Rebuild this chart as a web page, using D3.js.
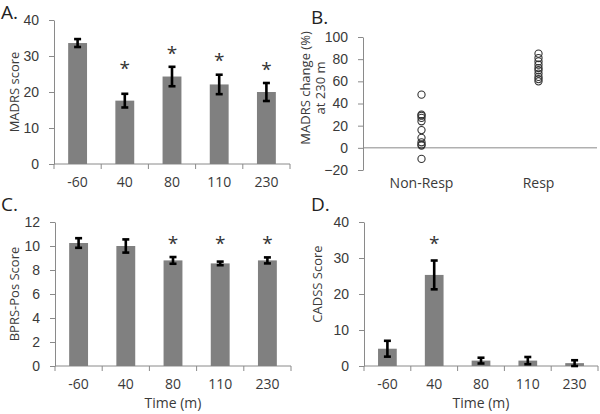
<!DOCTYPE html>
<html><head><meta charset="utf-8">
<script src="https://cdn.jsdelivr.net/npm/d3@7"></script>
<style>
body{margin:0;background:#fff;}
svg{display:block;font-family:"Open Sans","Noto Sans",sans-serif;}
</style></head>
<body><svg id="c" width="600" height="414"></svg>
<script>
const times = ["-60","40","80","110","230"];
// Panel A: MADRS
const madrsMean = [33.6, 17.6, 24.3, 22.1, 20.0];
const madrsErr  = [1.1, 1.9, 2.7, 2.7, 2.5];
const madrsStarPos = [null, 27.5, 31.7, 29.7, 27.2];
const madrsTicks = [0,10,20,30,40];
// Panel B: MADRS change at 230 m
const groups = ["Non-Resp","Resp"];
const nonResp = [48, 30, 29, 27, 24, 16, 9, 5, 3, 2, -10];
const resp = [85, 81, 78, 75, 72, 70, 67, 64, 62, 60];
const changeTicks = [-20,0,20,40,60,80,100];
// Panel C: BPRS-Pos
const bprsMean = [10.25, 10.0, 8.8, 8.55, 8.8];
const bprsErr  = [0.4, 0.55, 0.28, 0.15, 0.25];
const bprsStarPos = [null, null, 10.5, 10.5, 10.5];
const bprsTicks = [0,2,4,6,8,10,12];
// Panel D: CADSS
const cadssMean = [4.8, 25.3, 1.5, 1.5, 0.8];
const cadssErr  = [2.2, 4.0, 0.8, 1.0, 0.8];
const cadssStarPos = [null, 35, null, null, null];
const cadssTicks = [0,10,20,30,40];

const svg = d3.select("#c");
const axisCol = "#8a8a8a", textCol = "#3a3a3a", barCol = "#808080";

function styleAxis(g){
  g.selectAll("path,line").attr("stroke", axisCol);
  g.selectAll("text").attr("fill", textCol).style("font-size","14px");
}

function barPanel(o){
  const y = d3.scaleLinear().domain([o.ticks[0], o.ticks[o.ticks.length-1]]).range([o.y0, o.y1]);
  const x = d3.scaleBand().domain(times).range([o.x0, o.x1]).paddingInner(0.6).paddingOuter(0.3);
  const gy = svg.append("g").attr("transform", `translate(${o.x0},0)`)
    .call(d3.axisLeft(y).tickValues(o.ticks).tickSize(5).tickSizeOuter(0).tickPadding(10));
  styleAxis(gy);
  const gx = svg.append("g");
  gx.append("line").attr("x1", o.x0).attr("x2", o.x1).attr("y1", y(0)).attr("y2", y(0)).attr("stroke", axisCol);
  const step = x.step();
  const bounds = times.map(t => x(t) + x.bandwidth()/2 - step/2);
  bounds.push(x(times[times.length-1]) + x.bandwidth()/2 + step/2);
  gx.selectAll("line.tk").data(bounds).enter().append("line").attr("class","tk")
    .attr("x1", d=>d).attr("x2", d=>d).attr("y1", y(0)).attr("y2", y(0)+5).attr("stroke", axisCol);
  gx.selectAll("text").data(times).enter().append("text")
    .attr("x", d => x(d)+x.bandwidth()/2).attr("y", y(0)+23)
    .attr("text-anchor","middle").attr("fill", textCol).style("font-size","14px").text(d=>d);
  svg.append("g").selectAll("rect").data(o.mean).enter().append("rect")
    .attr("x", (d,i)=>x(times[i])).attr("width", x.bandwidth())
    .attr("y", d=>y(d)).attr("height", d=>y(0)-y(d)).attr("fill", barCol);
  const eb = svg.append("g").attr("stroke","#000").attr("stroke-width",2.6);
  o.mean.forEach((m,i)=>{
    const cx = x(times[i])+x.bandwidth()/2;
    const lo = y(m-o.err[i]), hi = y(m+o.err[i]);
    eb.append("line").attr("x1",cx).attr("x2",cx).attr("y1",lo).attr("y2",hi);
    eb.append("line").attr("x1",cx-3.5).attr("x2",cx+3.5).attr("y1",lo).attr("y2",lo);
    eb.append("line").attr("x1",cx-3.5).attr("x2",cx+3.5).attr("y1",hi).attr("y2",hi);
  });
  o.star.forEach((s,i)=>{
    if(s==null) return;
    svg.append("text").attr("x", x(times[i])+x.bandwidth()/2).attr("y", y(s)+10)
      .attr("text-anchor","middle").attr("fill","#333").style("font-size","19px").text("*");
  });
  svg.append("text").attr("transform", `translate(${o.lx},${o.ly}) rotate(-90)`)
    .attr("text-anchor","middle").attr("fill", textCol).style("font-size","13px").text(o.ylabel);
  if(o.xlabel){
    svg.append("text").attr("x", (o.x0+o.x1)/2).attr("y", y(0)+42)
      .attr("text-anchor","middle").attr("fill", textCol).style("font-size","14px").text(o.xlabel);
  }
}

barPanel({x0:54, x1:290, y0:164, y1:20, ticks:madrsTicks, mean:madrsMean, err:madrsErr, star:madrsStarPos,
  ylabel:"MADRS score", lx:19, ly:92});
barPanel({x0:55, x1:291, y0:366, y1:222, ticks:bprsTicks, mean:bprsMean, err:bprsErr, star:bprsStarPos,
  ylabel:"BPRS-Pos Score", lx:19, ly:294, xlabel:"Time (m)"});
barPanel({x0:364, x1:598, y0:366, y1:222, ticks:cadssTicks, mean:cadssMean, err:cadssErr, star:cadssStarPos,
  ylabel:"CADSS Score", lx:322, ly:284, xlabel:"Time (m)"});

(function(){
  const x0 = 363, x1 = 597;
  const y = d3.scaleLinear().domain([-20,100]).range([170,37]);
  const x = d3.scaleBand().domain(groups).range([x0,x1]);
  const gy = svg.append("g").attr("transform", `translate(${x0},0)`)
    .call(d3.axisLeft(y).tickValues(changeTicks).tickSize(5).tickSizeOuter(0).tickPadding(10));
  styleAxis(gy);
  svg.append("line").attr("x1",x0).attr("x2",x1).attr("y1",y(0)).attr("y2",y(0)).attr("stroke",axisCol);
  svg.append("g").selectAll("text").data(groups).enter().append("text")
    .attr("x", d=>x(d)+x.bandwidth()/2).attr("y", 188).attr("text-anchor","middle")
    .attr("fill",textCol).style("font-size","14px").text(d=>d);
  const pts = nonResp.map(v=>({g:"Non-Resp",v})).concat(resp.map(v=>({g:"Resp",v})));
  svg.append("g").selectAll("circle").data(pts).enter().append("circle")
    .attr("cx", d=>x(d.g)+x.bandwidth()/2).attr("cy", d=>y(d.v)).attr("r",3.6)
    .attr("fill","none").attr("stroke","#333").attr("stroke-width",1.1);
  const lab = svg.append("text").attr("transform","translate(318,88) rotate(-90)")
    .attr("text-anchor","middle").attr("fill",textCol).style("font-size","13px");
  lab.append("tspan").attr("x",0).attr("dy",-8).text("MADRS change (%)");
  lab.append("tspan").attr("x",0).attr("dy",15).text("at 230 m");
})();

[["A.",1,19],["B.",311,24],["C.",1,211],["D.",311,211]].forEach(([t,x,yy])=>{
  svg.append("text").attr("x",x).attr("y",yy).attr("fill","#222").style("font-size","19px").text(t);
});
</script></body></html>
